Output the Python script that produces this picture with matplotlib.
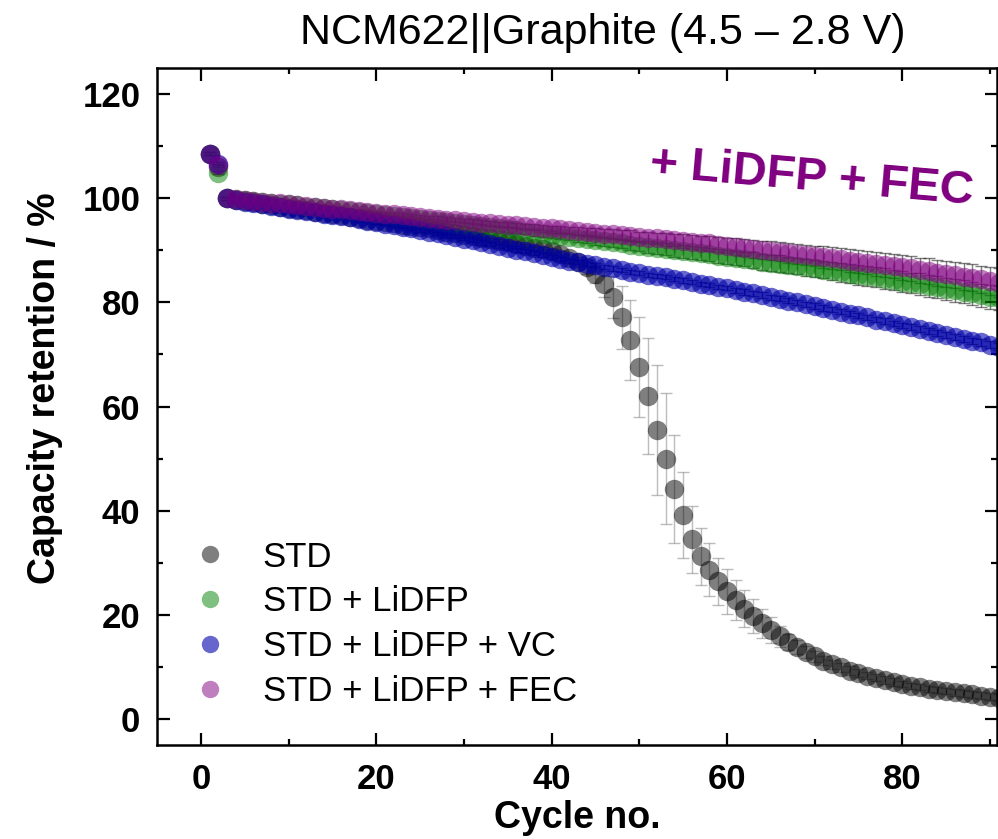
import numpy as np
import matplotlib
matplotlib.use("Agg")
import matplotlib.pyplot as plt
from matplotlib.lines import Line2D

plt.rcParams['font.family'] = ['Liberation Sans', 'DejaVu Sans']

# cycle numbers and capacity retention (%)
cycles = list(range(1, 92))

std = [108.5, 106.0, 100.0, 99.7, 99.4, 99.2, 98.9, 98.7, 98.4, 98.2,
       97.9, 97.7, 97.4, 97.2, 96.9, 96.7, 96.4, 96.2, 95.9, 95.7,
       95.4, 95.2, 94.9, 94.7, 94.4, 94.2, 93.9, 93.6, 93.3, 93.0,
       92.7, 92.4, 92.1, 91.8, 91.5, 91.2, 90.9, 90.5, 90.2, 89.8,
       89.3, 88.6, 87.8, 86.8, 85.5, 83.6, 81.0, 77.1, 72.7, 67.6,
       62.0, 55.5, 50.0, 44.2, 39.2, 34.5, 31.2, 28.7, 26.4, 24.5,
       22.8, 21.2, 19.8, 18.4, 17.1, 15.9, 14.8, 13.8, 12.9, 12.0,
       11.2, 10.5, 9.9, 9.3, 8.8, 8.3, 7.9, 7.5, 7.1, 6.7,
       6.4, 6.1, 5.8, 5.5, 5.3, 5.1, 4.9, 4.7, 4.5, 4.3, 4.1]
std_err = [0.3] * 37 + [0.4, 0.4, 0.4,
           0.5, 0.7, 1.0, 1.3, 1.8, 2.5, 4.0, 6.0, 7.7, 9.6,
           11.2, 12.5, 12.5, 10.4, 8.2, 6.4, 5.4, 5.0, 4.6, 4.3,
           3.8, 3.5, 3.2, 2.8, 2.5, 2.0, 1.6, 1.3, 1.1, 1.0,
           0.9, 0.9, 0.8, 0.8, 0.8, 0.7, 0.7, 0.7, 0.7, 0.6] + [0.6] * 11

lidfp = [108.5, 104.9, 100.0, 99.8, 99.6, 99.4, 99.3, 99.1, 98.9, 98.8,
         98.6, 98.4, 98.3, 98.1, 97.9, 97.8, 97.6, 97.4, 97.2, 97.0,
         96.8, 96.6, 96.4, 96.2, 96.0, 95.8, 95.6, 95.4, 95.2, 95.0,
         94.8, 94.6, 94.4, 94.2, 94.0, 93.8, 93.6, 93.3, 93.1, 92.9,
         92.7, 92.5, 92.3, 92.1, 91.9, 91.7, 91.5, 91.3, 91.0, 90.8,
         90.6, 90.4, 90.2, 90.0, 89.8, 89.6, 89.4, 89.2, 88.9, 88.7,
         88.5, 88.3, 88.1, 87.8, 87.6, 87.4, 87.2, 87.0, 86.7, 86.5,
         86.3, 86.0, 85.8, 85.5, 85.3, 85.0, 84.8, 84.5, 84.3, 84.0,
         83.7, 83.5, 83.2, 82.9, 82.6, 82.3, 82.0, 81.7, 81.4, 81.1, 80.8]
lidfp_err = [0.3] * 20 + [0.4] * 10 + [0.5] * 10 + [
             0.6, 0.6, 0.7, 0.7, 0.8, 0.8, 0.9, 0.9, 1.0, 1.0,
             1.1, 1.1, 1.1, 1.2, 1.2, 1.2, 1.3, 1.3, 1.3, 1.4,
             1.4, 1.4, 1.5, 1.5, 1.5, 1.6, 1.6, 1.6, 1.7, 1.7,
             1.7, 1.8, 1.8, 1.8, 1.9, 1.9, 1.9, 2.0, 2.0, 2.0,
             2.0, 2.1, 2.1, 2.1, 2.1, 2.2, 2.2, 2.2, 2.2, 2.3, 2.3]

vc = [108.5, 106.6, 100.0, 99.6, 99.3, 99.0, 98.8, 98.5, 98.3, 98.0,
      97.8, 97.5, 97.3, 97.0, 96.8, 96.5, 96.3, 96.0, 95.7, 95.4,
      95.1, 94.8, 94.5, 94.2, 93.9, 93.6, 93.3, 92.9, 92.6, 92.2,
      91.9, 91.5, 91.2, 90.8, 90.5, 90.1, 89.8, 89.4, 89.1, 88.7,
      88.4, 88.0, 87.7, 87.4, 87.1, 86.8, 86.5, 86.2, 85.9, 85.6,
      85.3, 85.0, 84.8, 84.5, 84.2, 83.9, 83.6, 83.3, 83.0, 82.7,
      82.3, 82.0, 81.7, 81.4, 81.0, 80.7, 80.3, 80.0, 79.6, 79.3,
      78.9, 78.6, 78.2, 77.8, 77.5, 77.1, 76.7, 76.4, 76.0, 75.6,
      75.3, 74.9, 74.5, 74.1, 73.8, 73.4, 73.0, 72.6, 72.3, 71.9, 71.5]
vc_err = [0.3] * 30 + [0.4] * 30 + [0.5] * 20 + [0.6] * 11

fec = [108.5, 106.3, 100.0, 99.8, 99.6, 99.5, 99.3, 99.1, 99.0, 98.8,
       98.7, 98.5, 98.3, 98.2, 98.0, 97.9, 97.7, 97.5, 97.4, 97.2,
       97.0, 96.9, 96.7, 96.6, 96.4, 96.2, 96.1, 95.9, 95.8, 95.6,
       95.5, 95.3, 95.2, 95.0, 94.9, 94.8, 94.6, 94.5, 94.3, 94.2,
       94.0, 93.9, 93.7, 93.6, 93.4, 93.2, 93.1, 92.9, 92.8, 92.6,
       92.4, 92.3, 92.1, 92.0, 91.8, 91.6, 91.4, 91.3, 91.1, 90.9,
       90.7, 90.5, 90.3, 90.1, 89.9, 89.7, 89.5, 89.3, 89.1, 88.9,
       88.7, 88.5, 88.3, 88.0, 87.8, 87.6, 87.4, 87.2, 86.9, 86.7,
       86.5, 86.2, 86.0, 85.7, 85.5, 85.2, 84.9, 84.7, 84.4, 84.1, 83.8]
fec_err = [0.3] * 20 + [0.4] * 10 + [0.5] * 10 + [
           0.6, 0.6, 0.7, 0.7, 0.8, 0.8, 0.9, 0.9, 1.0, 1.0,
           1.1, 1.1, 1.2, 1.2, 1.3, 1.3, 1.4, 1.4, 1.5, 1.5,
           1.6, 1.6, 1.7, 1.7, 1.8, 1.8, 1.9, 1.9, 2.0, 2.0,
           2.1, 2.1, 2.1, 2.2, 2.2, 2.2, 2.3, 2.3, 2.3, 2.4,
           2.4, 2.4, 2.5, 2.5, 2.5, 2.5, 2.6, 2.6, 2.6, 2.6, 2.7]

labels = ['STD', 'STD + LiDFP', 'STD + LiDFP + VC', 'STD + LiDFP + FEC']
colors = ['#000000', '#008000', '#0000aa', '#800080']
alphas = [0.5, 0.5, 0.6, 0.5]
ecolors = ['#7a7a7a', '#000000', '#000000', '#000000']

fig = plt.figure(figsize=(9.98, 8.39), dpi=100)
ax = fig.add_axes([157 / 998, 1 - 745 / 839, 840 / 998, 677 / 839])

series = [(std, std_err), (lidfp, lidfp_err), (vc, vc_err), (fec, fec_err)]
for (vals, errs), c, a, ec in zip(series, colors, alphas, ecolors):
    ax.errorbar(cycles, vals, yerr=errs, fmt='o', ms=14, mfc=c, mec='none',
                alpha=a, ecolor=ec, elinewidth=1.0, capsize=4, capthick=1.0)

ax.set_xlim(-5, 90.8)
ax.set_ylim(-5, 125)
ax.set_xticks([0, 20, 40, 60, 80])
ax.set_xticks(np.arange(10, 91, 20), minor=True)
ax.set_yticks([0, 20, 40, 60, 80, 100, 120])
ax.set_yticks(np.arange(10, 121, 20), minor=True)
ax.tick_params(which='both', direction='in', top=True, right=True, width=1.6)
ax.tick_params(which='major', length=9)
ax.tick_params(which='minor', length=4.5)
ax.tick_params(axis='x', which='major', pad=13)
ax.tick_params(axis='y', which='major', pad=12)
for lab in ax.get_xticklabels() + ax.get_yticklabels():
    lab.set_fontsize(25)
    lab.set_fontweight('bold')
for sp in ax.spines.values():
    sp.set_linewidth(1.8)

fig.text(577 / 998, 1 - 818 / 839, 'Cycle no.', fontsize=27, fontweight='bold',
         ha='center', va='center')
fig.text(45 / 998, 1 - 388 / 839, 'Capacity retention / %', fontsize=27,
         fontweight='bold', rotation=90, ha='center', va='center')
fig.text(603 / 998, 1 - 33 / 839, 'NCM622||Graphite (4.5 \u2013 2.8 V)',
         fontsize=31, ha='center', va='center')
fig.text(812 / 998, 1 - 178 / 839, '+ LiDFP + FEC', fontsize=34,
         fontweight='bold', color='#800080', rotation=-5,
         ha='center', va='center', rotation_mode='anchor')

handles = [Line2D([], [], ls='none', marker='o', ms=12.5, mfc=c, mec='none', alpha=a)
           for c, a in zip(colors, alphas)]
ax.legend(handles, labels, loc='upper left', bbox_to_anchor=(0.043, 0.302),
          frameon=False, fontsize=25, handlelength=1.0, handletextpad=1.0,
          labelspacing=0.34, borderpad=0, borderaxespad=0)

fig.savefig('out.png', dpi=100)
